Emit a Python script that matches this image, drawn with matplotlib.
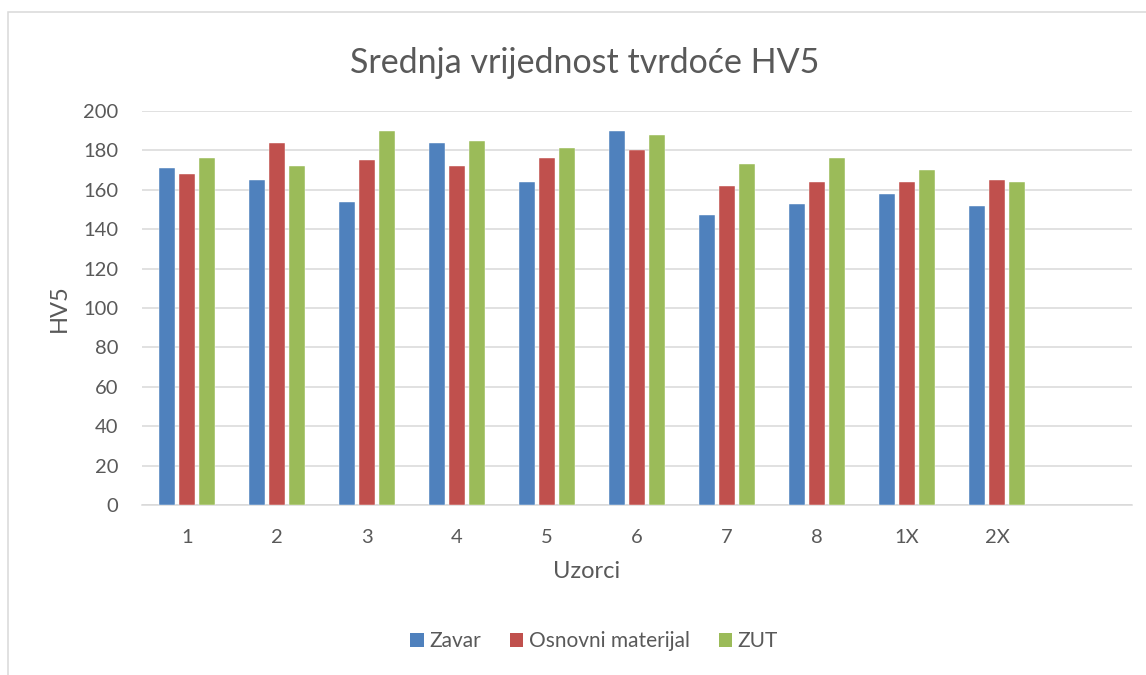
import matplotlib
matplotlib.use('Agg')
import matplotlib.pyplot as plt
from matplotlib.patches import Rectangle, Patch
import numpy as np

# Sample labels (one empty slot is left at the end of the axis)
categories = ['1', '2', '3', '4', '5', '6', '7', '8', '1X', '2X']
series_names = ['Zavar', 'Osnovni materijal', 'ZUT']
zavar = [171, 165, 154, 184, 164, 190, 147, 153, 158, 152]
osnovni = [168, 184, 175, 172, 176, 180, 162, 164, 164, 165]
zut = [176, 172, 190, 185, 181, 188, 173, 176, 170, 164]
y_ticks = [0, 20, 40, 60, 80, 100, 120, 140, 160, 180, 200]

colors = ['#4F81BD', '#C0504D', '#9BBB59']
text_color = '#595959'
grid_color = '#D9D9D9'

plt.rcParams['font.family'] = ['Lato', 'DejaVu Sans']

W, H = 1146, 675
fig = plt.figure(figsize=(W / 100, H / 100), dpi=100)
ax = fig.add_axes([142 / W, 1 - 505 / H, 990 / W, 394 / H])

x = np.arange(len(categories))
bar_w = 0.175
step = 0.222
for i, (vals, name) in enumerate(zip([zavar, osnovni, zut], series_names)):
    ax.bar(x + (i - 1) * step, vals, width=bar_w, color=colors[i],
           label=name, zorder=3, edgecolor='white', linewidth=0.3)

ax.set_xlim(-0.5, len(categories) + 0.5)
ax.set_ylim(0, 200)
ax.set_yticks(y_ticks)
ax.set_xticks(x)
ax.set_xticklabels(categories)
ax.tick_params(axis='both', length=0, labelsize=14.5, colors=text_color)
ax.tick_params(axis='x', pad=17)
ax.tick_params(axis='y', pad=17)
ax.yaxis.grid(True, color=grid_color, linewidth=1.1, zorder=0)
ax.set_axisbelow(True)
for side in ['top', 'right', 'left']:
    ax.spines[side].set_visible(False)
ax.spines['bottom'].set_color(grid_color)
ax.spines['bottom'].set_linewidth(1.1)

# Titles
fig.text(585 / W, 1 - 73 / H, 'Srednja vrijednost tvrdoće HV5', ha='center',
         va='baseline', fontsize=24.5, color=text_color)
fig.text(587 / W, 1 - 578 / H, 'Uzorci', ha='center', va='baseline',
         fontsize=17, color=text_color)
fig.text(59 / W, 1 - 308 / H, 'HV5', ha='center', va='center', rotation=90,
         fontsize=17, color=text_color)

# Legend
handles = [Patch(facecolor=c, label=n) for c, n in zip(colors, series_names)]
fig.legend(handles=handles, loc='center', bbox_to_anchor=(594 / W, 1 - 641 / H),
           ncol=3, frameon=False, fontsize=15, handlelength=0.65,
           handleheight=0.65, handletextpad=0.25, columnspacing=1.4,
           labelcolor=text_color)

# Chart area border
fig.patches.append(Rectangle((8 / W, -0.1), 1.2, 1.1 - 12 / H,
                             transform=fig.transFigure, fill=False,
                             edgecolor=grid_color, linewidth=1.1))

fig.savefig('out.png', dpi=100)
